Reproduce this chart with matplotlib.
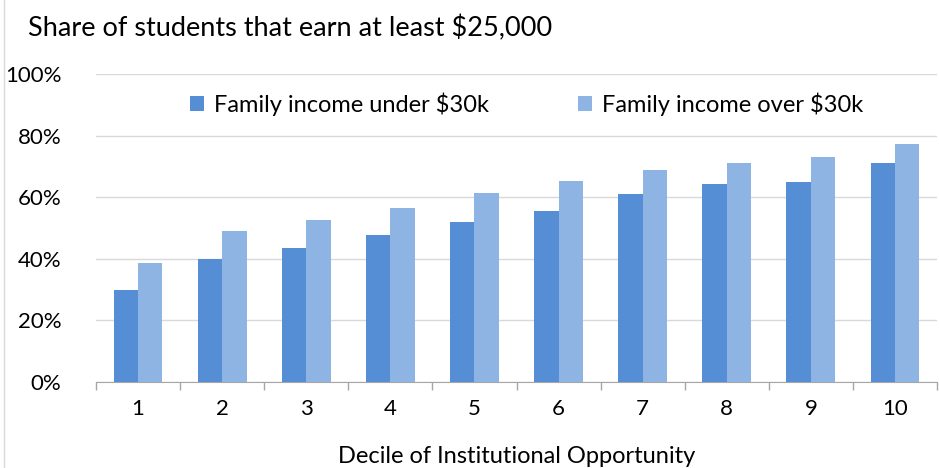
import matplotlib.pyplot as plt
import numpy as np
from matplotlib.lines import Line2D
from matplotlib.ticker import PercentFormatter

deciles = ["1", "2", "3", "4", "5", "6", "7", "8", "9", "10"]
under_30k = [29.9, 39.8, 43.5, 47.7, 52.1, 55.6, 61.0, 64.4, 64.8, 71.0]
over_30k = [38.6, 48.9, 52.6, 56.5, 61.4, 65.1, 68.9, 71.0, 73.0, 77.3]
labels = ["Family income under $30k", "Family income over $30k"]
colors = ["#558ED5", "#8EB4E3"]


def main():
    plt.rcParams["font.family"] = ["Lato", "DejaVu Sans"]
    fig = plt.figure(figsize=(9.39, 4.68), dpi=100)
    ax = fig.add_axes([96 / 939, 1 - 382 / 468, 841 / 939, 308 / 468])

    x = np.arange(len(deciles))
    w = 0.29
    ax.bar(x - w / 2, under_30k, w, color=colors[0], label=labels[0], zorder=3)
    ax.bar(x + w / 2, over_30k, w, color=colors[1], label=labels[1], zorder=3)

    ax.set_xlim(-0.5, len(deciles) - 0.5)
    ax.set_ylim(0, 100)
    ax.set_yticks(np.arange(0, 101, 20))
    ax.yaxis.set_major_formatter(PercentFormatter(decimals=0))
    ax.grid(axis="y", color="#d9d9d9", linewidth=1, zorder=0)

    ax.set_xticks(x)
    ax.set_xticklabels(deciles)
    ax.set_xticks(np.arange(-0.5, len(deciles)), minor=True)
    ax.tick_params(axis="x", which="major", length=0, pad=12, labelsize=16, colors="#000000")
    ax.tick_params(axis="x", which="minor", length=6, color="#a6a6a6", width=1)
    ax.tick_params(axis="y", length=0, pad=25, labelsize=16)

    for s in ["top", "right", "left"]:
        ax.spines[s].set_visible(False)
    ax.spines["bottom"].set_color("#a6a6a6")

    ax.set_xlabel("Decile of Institutional Opportunity", fontsize=17, labelpad=20)

    ax.legend(loc="center", bbox_to_anchor=(0.512, 0.903), ncol=2, frameon=False,
              fontsize=17, handlelength=0.6, handleheight=0.6, handletextpad=0.4,
              columnspacing=3.8)

    fig.text(28 / 939, 1 - 28 / 468, "Share of students that earn at least $25,000",
             fontsize=19.5, va="center", ha="left")
    fig.add_artist(Line2D([0.004, 0.004], [0, 1], color="#d9d9d9", linewidth=1,
                          transform=fig.transFigure))

    fig.savefig("out.png", dpi=100)


if __name__ == "__main__":
    main()
